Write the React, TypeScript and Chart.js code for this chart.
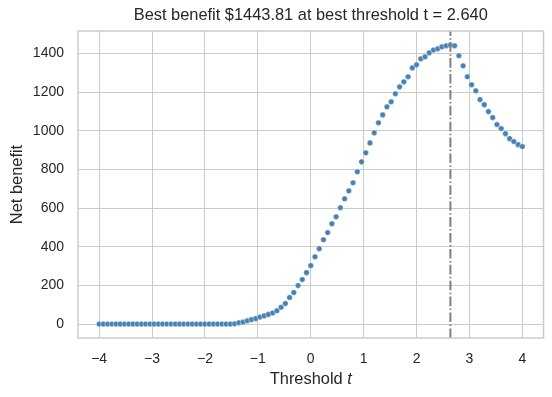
import React, { useEffect, useRef } from 'react';
import { Chart, registerables } from 'chart.js';

Chart.register(...registerables);

const thresholds = [
  -4.0, -3.92, -3.84, -3.76, -3.68, -3.6, -3.52, -3.44, -3.36, -3.28,
  -3.2, -3.12, -3.04, -2.96, -2.88, -2.8, -2.72, -2.64, -2.56, -2.48,
  -2.4, -2.32, -2.24, -2.16, -2.08, -2.0, -1.92, -1.84, -1.76, -1.68,
  -1.6, -1.52, -1.44, -1.36, -1.28, -1.2, -1.12, -1.04, -0.96, -0.88,
  -0.8, -0.72, -0.64, -0.56, -0.48, -0.4, -0.32, -0.24, -0.16, -0.08,
  0.0, 0.08, 0.16, 0.24, 0.32, 0.4, 0.48, 0.56, 0.64, 0.72,
  0.8, 0.88, 0.96, 1.04, 1.12, 1.2, 1.28, 1.36, 1.44, 1.52,
  1.6, 1.68, 1.76, 1.84, 1.92, 2.0, 2.08, 2.16, 2.24, 2.32,
  2.4, 2.48, 2.56, 2.64, 2.72, 2.8, 2.88, 2.96, 3.04, 3.12,
  3.2, 3.28, 3.36, 3.44, 3.52, 3.6, 3.68, 3.76, 3.84, 3.92,
  4.0,
];

const netBenefit = [
  0, 0, 0, 0, 0, 0, 0, 0, 0, 0,
  0, 0, 0, 0, 0, 0, 0, 0, 0, 0,
  0, 0, 0, 0, 0, 0, 0, 0, 0, 0,
  0, 0, 1, 7, 10, 17, 23, 28, 36, 43,
  50, 57, 69, 87, 106, 137, 163, 199, 230, 266,
  302, 348, 390, 436, 473, 519, 555, 602, 648, 689,
  731, 788, 839, 886, 937, 989, 1041, 1082, 1124, 1150,
  1191, 1227, 1253, 1279, 1325, 1341, 1372, 1382, 1403, 1418,
  1424, 1434, 1440, 1443.81, 1440, 1388, 1336, 1279, 1238, 1207,
  1161, 1135, 1099, 1068, 1032, 1011, 985, 959, 944, 928,
  918,
];

const bestThreshold = 2.64;
const bestBenefit = 1443.81;

const xTickValues = [-4, -3, -2, -1, 0, 1, 2, 3, 4];
const yTickValues = [0, 200, 400, 600, 800, 1000, 1200, 1400];

const titleText = `Best benefit $${bestBenefit.toFixed(2)} at best threshold t = ${bestThreshold.toFixed(3)}`;
const xLabelMain = 'Threshold ';
const xLabelItalic = 't';
const yLabelText = 'Net benefit';

const FONT = '"Liberation Sans", Arial, sans-serif';
const TEXT = '#262626';
const GRID = '#cccccc';
const LABEL_SIZE = 16.4;

export default function App() {
  const ref = useRef<HTMLCanvasElement | null>(null);

  useEffect(() => {
    const canvas = ref.current;
    if (!canvas) return;

    const deco = {
      id: 'deco',
      afterDatasetsDraw(chart: any) {
        const { ctx, chartArea } = chart;
        const xs = chart.scales.x;
        const px = xs.getPixelForValue(bestThreshold);
        ctx.save();
        ctx.strokeStyle = '#808080';
        ctx.lineWidth = 2;
        ctx.setLineDash([9.6, 2.4, 1.5, 2.4]);
        ctx.beginPath();
        ctx.moveTo(px, chartArea.bottom);
        ctx.lineTo(px, chartArea.top);
        ctx.stroke();
        ctx.restore();
      },
      afterDraw(chart: any) {
        const { ctx, chartArea } = chart;
        ctx.save();
        ctx.strokeStyle = GRID;
        ctx.lineWidth = 1.5;
        ctx.strokeRect(chartArea.left, chartArea.top, chartArea.right - chartArea.left, chartArea.bottom - chartArea.top);

        const cx = (chartArea.left + chartArea.right) / 2;
        ctx.fillStyle = TEXT;
        ctx.textBaseline = 'alphabetic';
        ctx.textAlign = 'center';
        ctx.font = `${LABEL_SIZE}px ${FONT}`;
        ctx.fillText(titleText, cx, 19.5);

        // x label with italic t
        ctx.font = `${LABEL_SIZE}px ${FONT}`;
        const w1 = ctx.measureText(xLabelMain).width;
        ctx.font = `italic ${LABEL_SIZE}px ${FONT}`;
        const w2 = ctx.measureText(xLabelItalic).width;
        const startX = cx - (w1 + w2) / 2;
        ctx.textAlign = 'left';
        ctx.font = `${LABEL_SIZE}px ${FONT}`;
        ctx.fillText(xLabelMain, startX, 383.5);
        ctx.font = `italic ${LABEL_SIZE}px ${FONT}`;
        ctx.fillText(xLabelItalic, startX + w1, 383.5);

        // y label
        const cy = (chartArea.top + chartArea.bottom) / 2;
        ctx.translate(21.5, cy);
        ctx.rotate(-Math.PI / 2);
        ctx.textAlign = 'center';
        ctx.font = `${LABEL_SIZE}px ${FONT}`;
        ctx.fillText(yLabelText, 0, 0);
        ctx.restore();
      },
    };

    const chart = new Chart(canvas, {
      type: 'scatter',
      data: {
        datasets: [
          {
            data: thresholds.map((t, i) => ({ x: t, y: netBenefit[i] })),
            backgroundColor: '#4682b4',
            borderColor: 'rgba(255,255,255,0.7)',
            borderWidth: 0.6,
            pointRadius: 2.8,
            pointHoverRadius: 2.8,
          },
        ],
      },
      options: {
        animation: false,
        responsive: false,
        devicePixelRatio: 1,
        events: [],
        layout: { padding: { top: 31, right: 8.5, left: 0, bottom: 0 } },
        plugins: {
          legend: { display: false },
          title: { display: false },
          tooltip: { enabled: false },
        },
        scales: {
          x: {
            type: 'linear',
            min: -4.4,
            max: 4.4,
            afterBuildTicks: (scale: any) => {
              scale.ticks = xTickValues.map((v) => ({ value: v }));
            },
            afterFit: (scale: any) => {
              scale.height = 59;
            },
            grid: { color: GRID, lineWidth: 1, drawTicks: false },
            border: { display: false },
            ticks: {
              padding: 13,
              color: TEXT,
              font: { family: FONT, size: 14 },
              maxRotation: 0,
              callback: (v: any) => String(v).replace('-', '\u2212'),
            },
          },
          y: {
            type: 'linear',
            min: -72.19,
            max: 1516.0,
            afterBuildTicks: (scale: any) => {
              scale.ticks = yTickValues.map((v) => ({ value: v }));
            },
            afterFit: (scale: any) => {
              scale.width = 78;
            },
            grid: { color: GRID, lineWidth: 1, drawTicks: false },
            border: { display: false },
            ticks: {
              padding: 14,
              color: TEXT,
              font: { family: FONT, size: 14 },
              callback: (v: any) => String(v),
            },
          },
        },
      },
      plugins: [deco],
    });

    return () => chart.destroy();
  }, []);

  return (
    <div style={{ position: 'absolute', left: 0, top: 0, width: 552, height: 397, background: '#fff' }}>
      <canvas ref={ref} width={552} height={397} style={{ display: 'block' }} />
    </div>
  );
}
